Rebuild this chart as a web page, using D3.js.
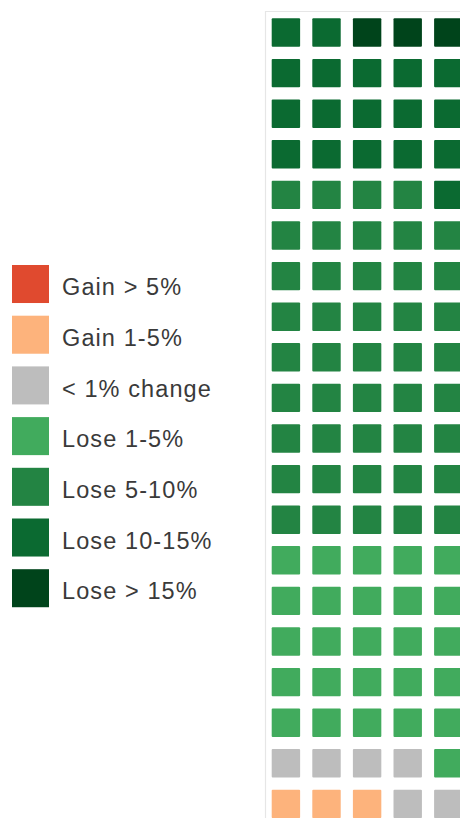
<!DOCTYPE html>
<html>
<head>
<meta charset="utf-8">
<script src="https://cdn.jsdelivr.net/npm/d3@7"></script>
<style>
  html, body { margin: 0; padding: 0; background: #fff; overflow: hidden; }
  text { font-family: "Liberation Sans", Arial, sans-serif; }
</style>
</head>
<body>
<div id="chart"></div>
<script>
const WIDTH = 460, HEIGHT = 818;

// legend categories, worst gain at top
const categories = ["Gain > 5%", "Gain 1-5%", "< 1% change", "Lose 1-5%", "Lose 5-10%", "Lose 10-15%", "Lose > 15%"];
const colors = ["#e04a2f", "#fdb37c", "#bdbdbd", "#41ab5d", "#238443", "#0b6a31", "#00441b"];

// visible part of the waffle: one entry per row, index into categories
const grid = [
    [5, 5, 6, 6, 6],
    [5, 5, 5, 5, 5],
    [5, 5, 5, 5, 5],
    [5, 5, 5, 5, 5],
    [4, 4, 4, 4, 5],
    [4, 4, 4, 4, 4],
    [4, 4, 4, 4, 4],
    [4, 4, 4, 4, 4],
    [4, 4, 4, 4, 4],
    [4, 4, 4, 4, 4],
    [4, 4, 4, 4, 4],
    [4, 4, 4, 4, 4],
    [4, 4, 4, 4, 4],
    [3, 3, 3, 3, 3],
    [3, 3, 3, 3, 3],
    [3, 3, 3, 3, 3],
    [3, 3, 3, 3, 3],
    [3, 3, 3, 3, 3],
    [2, 2, 2, 2, 3],
    [1, 1, 1, 2, 2]
];

let svg = d3.select("#chart")
    .append("svg")
    .attr("width", WIDTH)
    .attr("height", HEIGHT);

let color = d3.scaleOrdinal()
    .domain(d3.range(categories.length))
    .range(colors);

// waffle
let cells = grid.flatMap((row, r) => row.map((c, i) => ({ row: r, col: i, cat: c })));

let x = d3.scaleBand()
    .domain(d3.range(5))
    .range([271.7, 271.7 + 40.6 * 4.7])
    .paddingInner(0.3)
    .paddingOuter(0);

let y = d3.scaleBand()
    .domain(d3.range(grid.length))
    .range([18.3, 18.3 + 40.6 * 19.7])
    .paddingInner(0.3)
    .paddingOuter(0);

// faint frame round the grid
svg.append("path")
    .attr("d", `M265.5,${HEIGHT} V11.5 H${WIDTH}`)
    .attr("fill", "none")
    .attr("stroke", "#e6e6e6")
    .attr("stroke-width", 1.2);

svg.append("g")
    .selectAll("rect")
    .data(cells)
    .enter()
    .append("rect")
    .attr("x", d => x(d.col))
    .attr("y", d => y(d.row))
    .attr("width", x.bandwidth())
    .attr("height", y.bandwidth())
    .attr("rx", 1)
    .attr("fill", d => color(d.cat));

// legend
let ly = d3.scaleBand()
    .domain(d3.range(categories.length))
    .range([265, 265 + 50.7 * 6.75])
    .paddingInner(0.25)
    .paddingOuter(0);

let legend = svg.append("g")
    .selectAll("g")
    .data(categories)
    .enter()
    .append("g")
    .attr("transform", (d, i) => `translate(0, ${ly(i)})`);

legend.append("rect")
    .attr("x", 12)
    .attr("width", 37)
    .attr("height", ly.bandwidth())
    .attr("fill", (d, i) => color(i));

legend.append("text")
    .attr("x", 62)
    .attr("y", ly.bandwidth() / 2 + 3)
    .attr("dy", "0.35em")
    .style("font-size", "23.5px")
    .style("letter-spacing", "1.1px")
    .style("fill", "#3a3a3a")
    .text(d => d);
</script>
</body>
</html>
